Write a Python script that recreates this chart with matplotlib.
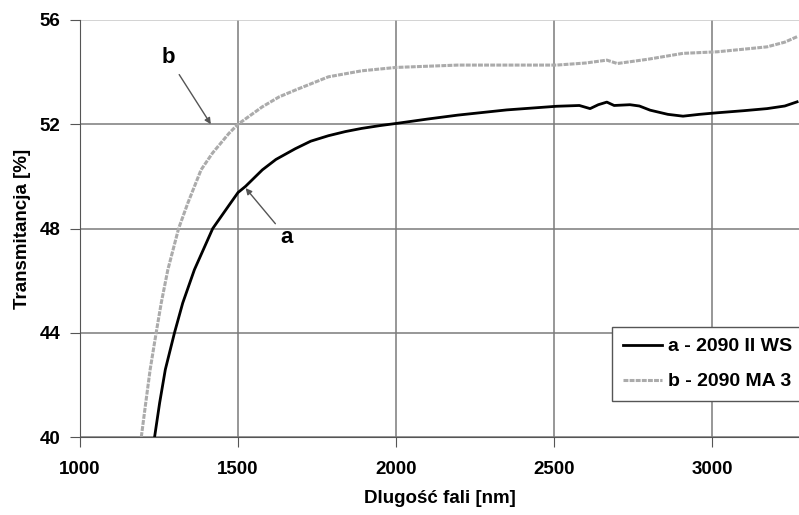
import matplotlib.pyplot as plt

plt.rcParams['font.family'] = ['Liberation Sans', 'DejaVu Sans']
plt.rcParams['font.weight'] = 'bold'

# sample a - 2090 II WS
wl_a = [1236, 1252, 1270, 1299, 1325, 1362, 1420, 1472, 1500, 1524, 1577, 1620,
        1681, 1730, 1786, 1840, 1891, 1950, 2000, 2100, 2195, 2350, 2508, 2580,
        2614, 2640, 2667, 2690, 2740, 2770, 2804, 2860, 2908, 2960, 3016, 3100,
        3174, 3230, 3269]
tr_a = [40.0, 41.31, 42.59, 44.0, 45.14, 46.42, 48.0, 48.9, 49.38, 49.62, 50.25, 50.65,
        51.06, 51.35, 51.56, 51.72, 51.84, 51.95, 52.03, 52.2, 52.35, 52.55, 52.69, 52.72,
        52.6, 52.75, 52.85, 52.72, 52.75, 52.7, 52.54, 52.38, 52.31, 52.38, 52.44, 52.52,
        52.6, 52.7, 52.86]

# sample b - 2090 MA 3
wl_b = [1194, 1208, 1222, 1241, 1257, 1278, 1312, 1341, 1383, 1419, 1472, 1500,
        1577, 1630, 1681, 1786, 1891, 2000, 2195, 2508, 2600, 2667, 2700, 2800,
        2908, 3016, 3100, 3174, 3230, 3269]
tr_b = [40.0, 41.31, 42.59, 44.0, 45.14, 46.42, 48.0, 48.97, 50.25, 50.89, 51.66, 52.0,
        52.67, 53.05, 53.31, 53.82, 54.05, 54.18, 54.27, 54.27, 54.35, 54.46, 54.33, 54.5,
        54.72, 54.78, 54.88, 54.97, 55.15, 55.36]

xticks = [1000, 1500, 2000, 2500, 3000]
yticks = [40, 44, 48, 52, 56]

fig = plt.figure(figsize=(7.99, 5.15), dpi=100)
ax = fig.add_axes([80 / 799, 1 - 437 / 515, 1 - 80 / 799, (437 - 20) / 515])

ax.plot(wl_a, tr_a, color='black', lw=2, label='a - 2090 II WS')
ax.plot(wl_b, tr_b, color='#ababab', lw=2.2, ls=(0, (1.6, 0.4)),
        label='b - 2090 MA 3')

ax.set_xlim(1000, 3275)
ax.set_ylim(40, 56)
ax.set_xticks(xticks)
ax.set_yticks(yticks)
ax.grid(True, color='#7a7a7a', lw=1.1)
ax.get_ygridlines()[-1].set_color('#c8c8c8')
ax.set_axisbelow(True)
for side in ['top', 'right']:
    ax.spines[side].set_visible(False)
for side in ['left', 'bottom']:
    ax.spines[side].set_color('#555555')
ax.tick_params(axis='both', direction='out', length=7, color='#555555',
               labelsize=13.5)
ax.tick_params(axis='y', pad=7)
ax.tick_params(axis='x', pad=10)

ax.set_xlabel('Dlugość fali [nm]', fontsize=13.5, fontweight='bold', labelpad=9)
ax.set_ylabel('Transmitancja [%]', fontsize=13.5, fontweight='bold', labelpad=6)

arrow = dict(arrowstyle='-|>', color='#555555', lw=1, mutation_scale=9,
             shrinkA=3, shrinkB=0)
ax.annotate('b', xy=(1414, 52.0), xytext=(1280, 54.55), fontsize=16,
            fontweight='bold', ha='center', va='center', arrowprops=arrow)
ax.annotate('a', xy=(1524, 49.55), xytext=(1655, 47.65), fontsize=16,
            fontweight='bold', ha='center', va='center', arrowprops=arrow)

leg = fig.legend(loc='upper left', bbox_to_anchor=(612 / 799, 1 - 327 / 515),
                 borderaxespad=0, fontsize=14, labelspacing=0.9, handlelength=2.0,
                 handletextpad=0.35, fancybox=False, framealpha=1, borderpad=0.55)
leg.get_frame().set_edgecolor('#555555')
leg.get_frame().set_linewidth(1)

fig.savefig('out.png', dpi=100)
